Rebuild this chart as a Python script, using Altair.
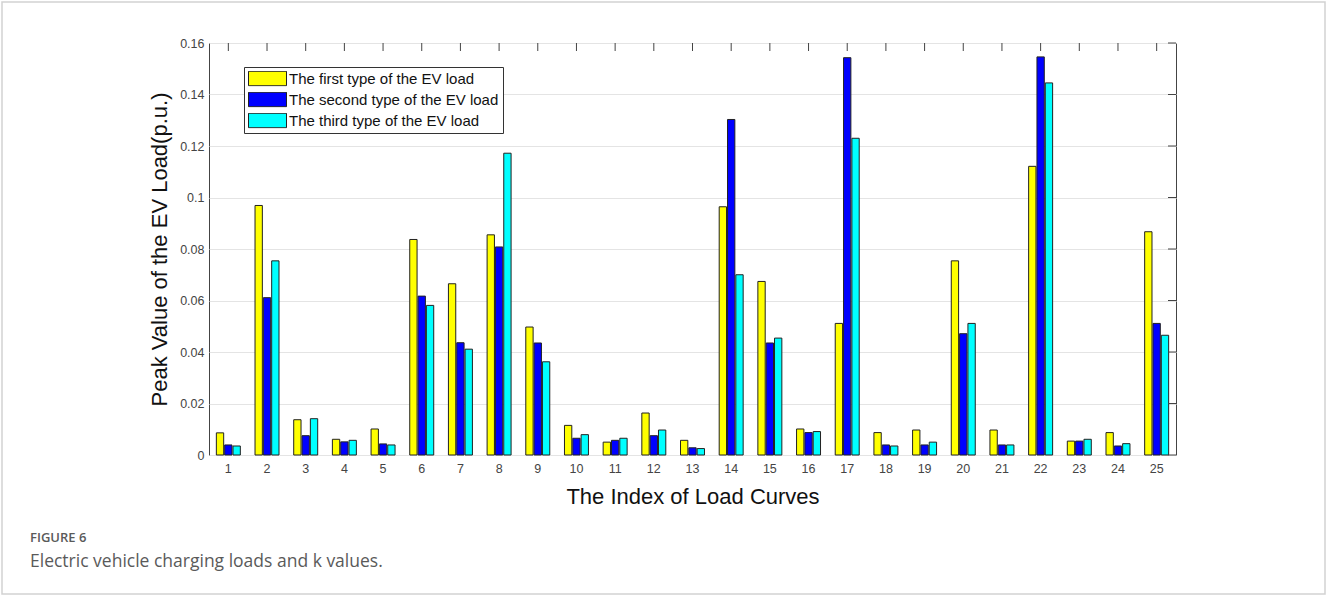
import altair as alt
import pandas as pd

# Peak EV load (p.u.) for each of the 25 load curves, three EV load types
categories = list(range(1, 26))
first_type = [0.0086, 0.0969, 0.0137, 0.0061, 0.0101, 0.0837, 0.0665, 0.0855, 0.0497, 0.0115,
              0.0050, 0.0163, 0.0057, 0.0964, 0.0674, 0.0101, 0.0511, 0.0087, 0.0097, 0.0754,
              0.0097, 0.1121, 0.0054, 0.0087, 0.0867]
second_type = [0.0039, 0.0611, 0.0075, 0.0051, 0.0043, 0.0617, 0.0436, 0.0808, 0.0435, 0.0065,
               0.0057, 0.0075, 0.0028, 0.1303, 0.0435, 0.0087, 0.1543, 0.0039, 0.0039, 0.0471,
               0.0039, 0.1546, 0.0054, 0.0035, 0.0511]
third_type = [0.0035, 0.0754, 0.0141, 0.0057, 0.0039, 0.0581, 0.0411, 0.1172, 0.0362, 0.0079,
              0.0065, 0.0097, 0.0025, 0.0700, 0.0454, 0.0091, 0.1230, 0.0035, 0.0050, 0.0511,
              0.0039, 0.1445, 0.0061, 0.0044, 0.0465]

series_names = ["The first type of the EV load",
                "The second type of the EV load",
                "The third type of the EV load"]
series_colors = ["#FFFF00", "#0000FF", "#00FFFF"]
y_ticks = [0, 0.02, 0.04, 0.06, 0.08, 0.1, 0.12, 0.14, 0.16]

x_title = "The Index of Load Curves"
y_title = "Peak Value of the EV Load(p.u.)"
fig_label = "FIGURE 6"
fig_caption = "Electric vehicle charging loads and k values."

W, H = 967, 412
PAD = {"left": 209, "top": 43, "right": 151, "bottom": 141}

rows = []
for name, vals in zip(series_names, [first_type, second_type, third_type]):
    for c, v in zip(categories, vals):
        rows.append({"idx": c, "series": name, "value": v})
df = pd.DataFrame(rows)
cat_df = pd.DataFrame({"idx": categories})
ytick_df = pd.DataFrame({"v": y_ticks})
one = pd.DataFrame({"k": [0]})

AXIS_FONT = "Liberation Sans"
x_scale = alt.Scale(paddingInner=0.38, paddingOuter=0.19)
y_scale = alt.Scale(domain=[0, 0.16], nice=False, zero=True)

bars = alt.Chart(df).mark_bar(stroke="#222222", strokeWidth=1).encode(
    x=alt.X("idx:O", scale=x_scale, title=x_title,
            axis=alt.Axis(labelAngle=0, labelFontSize=12.5, labelColor="#444444",
                          labelPadding=7, ticks=False, domain=False, grid=False,
                          titleFontSize=22, titleFontWeight="normal", titleColor="#111111",
                          titlePadding=12, labelFont=AXIS_FONT, titleFont=AXIS_FONT)),
    xOffset=alt.XOffset("series:N", sort=series_names,
                        scale=alt.Scale(paddingInner=0.12, paddingOuter=0)),
    y=alt.Y("value:Q", scale=y_scale, title=y_title,
            axis=alt.Axis(values=y_ticks, format="~g", labelFontSize=12.5,
                          labelColor="#444444", labelPadding=5, ticks=False, domain=False,
                          grid=True, gridColor="#e4e4e4", gridWidth=1,
                          titleFontSize=22, titleFontWeight="normal", titleColor="#111111",
                          titlePadding=8, labelFont=AXIS_FONT, titleFont=AXIS_FONT)),
    color=alt.Color("series:N", sort=series_names,
                    scale=alt.Scale(domain=series_names, range=series_colors),
                    legend=alt.Legend(
                        title=None, orient="none", legendX=35, legendY=24,
                        symbolType="M-1,-0.38H1V0.38H-1Z", symbolSize=1444,
                        symbolStrokeColor="#222222", symbolStrokeWidth=1,
                        symbolFillColor="#ffffff",
                        clipHeight=15, rowPadding=5, labelOffset=2,
                        labelFontSize=15, labelFont=AXIS_FONT, labelColor="#111111",
                        labelLimit=400, padding=4, strokeColor="#333333",
                        fillColor="#ffffff")),
)

# inward tick marks on the top and right edges of the box
top_ticks = alt.Chart(cat_df).mark_rule(color="#444444", strokeWidth=1).encode(
    x=alt.X("idx:O", scale=x_scale), y=alt.value(0), y2=alt.value(8))
right_ticks = alt.Chart(ytick_df).mark_rule(color="#444444", strokeWidth=1).encode(
    y=alt.Y("v:Q", scale=y_scale), x=alt.value(W - 8), x2=alt.value(W))

# page frame and figure caption
frame = alt.Chart(one).mark_rect(fill=None, stroke="#d2d2d2", strokeWidth=1.5).encode(
    x=alt.value(-PAD["left"] + 2), x2=alt.value(W + PAD["right"] - 2),
    y=alt.value(-PAD["top"] + 2), y2=alt.value(H + PAD["bottom"] - 2))
cap1 = alt.Chart(one).mark_text(align="left", baseline="middle", font="Open Sans",
                                fontSize=13, fontWeight=600, color="#5a5a5a").encode(
    x=alt.value(30 - PAD["left"]), y=alt.value(538 - PAD["top"]), text=alt.value(fig_label))
cap2 = alt.Chart(one).mark_text(align="left", baseline="middle", font="Open Sans",
                                fontSize=17.5, color="#5a5a5a").encode(
    x=alt.value(30 - PAD["left"]), y=alt.value(562 - PAD["top"]), text=alt.value(fig_caption))

chart = alt.layer(bars, top_ticks, right_ticks, frame, cap1, cap2).resolve_scale(
    x="shared", y="shared"
).properties(
    width=W, height=H,
    autosize=alt.AutoSizeParams(type="none"),
    padding=PAD,
    background="#ffffff",
).configure_view(stroke="#444444", strokeWidth=1)

chart.save("out.html", embed_options={"renderer": "svg", "actions": False})
